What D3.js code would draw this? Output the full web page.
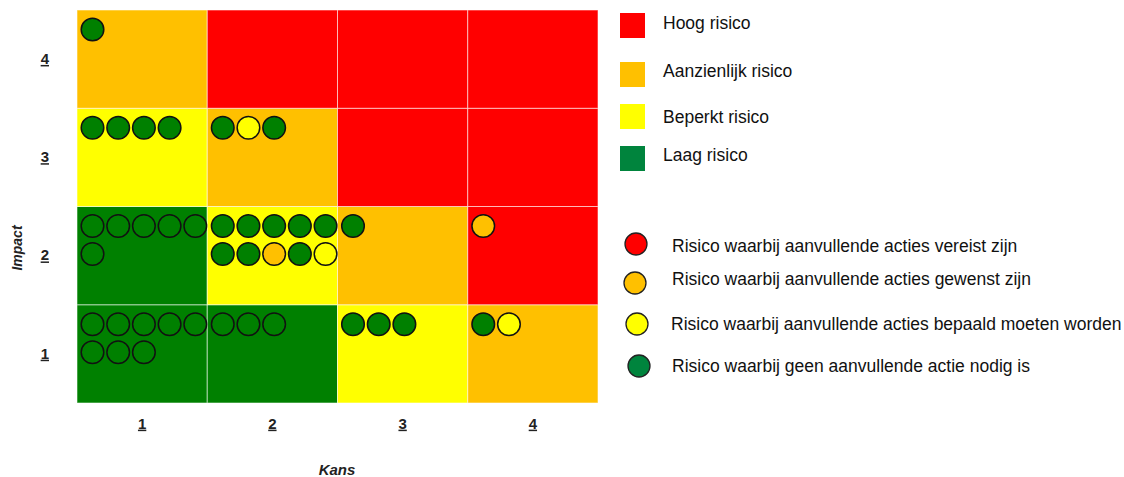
<!DOCTYPE html>
<html>
<head>
<meta charset="utf-8">
<script src="https://cdn.jsdelivr.net/npm/d3@7"></script>
<style>
  html, body { margin: 0; padding: 0; background: #fff; }
  svg { display: block; font-family: "Liberation Sans", Arial, sans-serif; }
</style>
</head>
<body>
<svg id="chart" width="1124" height="477"></svg>
<script>
// Axis categories
const kansLevels = [1, 2, 3, 4];
const impactLevels = [1, 2, 3, 4];

// Risk zone per cell: rows = impact 1..4, columns = kans 1..4
const zoneRows = [
  ["laag", "laag", "beperkt", "aanzienlijk"],        // impact 1
  ["laag", "beperkt", "aanzienlijk", "hoog"],        // impact 2
  ["beperkt", "aanzienlijk", "hoog", "hoog"],        // impact 3
  ["aanzienlijk", "hoog", "hoog", "hoog"]            // impact 4
];

// Individual risks, grouped per cell, in drawing order
const riskCells = [
  { kans: 1, impact: 4, dots: ["laag"] },
  { kans: 1, impact: 3, dots: ["laag", "laag", "laag", "laag"] },
  { kans: 2, impact: 3, dots: ["laag", "beperkt", "laag"] },
  { kans: 1, impact: 2, dots: ["laag", "laag", "laag", "laag", "laag", "laag"] },
  { kans: 2, impact: 2, dots: ["laag", "laag", "laag", "laag", "laag", "laag", "laag", "aanzienlijk", "laag", "beperkt"] },
  { kans: 3, impact: 2, dots: ["laag"] },
  { kans: 4, impact: 2, dots: ["aanzienlijk"] },
  { kans: 1, impact: 1, dots: ["laag", "laag", "laag", "laag", "laag", "laag", "laag", "laag"] },
  { kans: 2, impact: 1, dots: ["laag", "laag", "laag"] },
  { kans: 3, impact: 1, dots: ["laag", "laag", "laag"] },
  { kans: 4, impact: 1, dots: ["laag", "beperkt"] }
];

// Legend entries
const zoneKeys = ["hoog", "aanzienlijk", "beperkt", "laag"];
const zoneLabels = ["Hoog risico", "Aanzienlijk risico", "Beperkt risico", "Laag risico"];
const actionKeys = ["hoog", "aanzienlijk", "beperkt", "laag"];
const actionLabels = [
  "Risico waarbij aanvullende acties vereist zijn",
  "Risico waarbij aanvullende acties gewenst zijn",
  "Risico waarbij aanvullende acties bepaald moeten worden",
  "Risico waarbij geen aanvullende actie nodig is"
];

const cellColor = d3.scaleOrdinal()
  .domain(["hoog", "aanzienlijk", "beperkt", "laag"])
  .range(["#ff0000", "#ffc000", "#ffff00", "#008000"]);
const legendColor = d3.scaleOrdinal()
  .domain(["hoog", "aanzienlijk", "beperkt", "laag"])
  .range(["#ff0000", "#ffc000", "#ffff00", "#00843d"]);

const svg = d3.select("#chart");

const x = d3.scaleBand().domain(kansLevels).range([77, 598]);
const y = d3.scaleBand().domain(impactLevels.slice().reverse()).range([10, 403]);

// Matrix cells
const cells = [];
impactLevels.forEach((imp, i) => {
  kansLevels.forEach((k, j) => cells.push({ kans: k, impact: imp, zone: zoneRows[i][j] }));
});

svg.append("g").selectAll("rect")
  .data(cells)
  .join("rect")
  .attr("x", d => x(d.kans))
  .attr("y", d => y(d.impact))
  .attr("width", x.bandwidth())
  .attr("height", y.bandwidth())
  .attr("fill", d => cellColor(d.zone))
  .attr("stroke", "rgba(255,255,255,0.55)")
  .attr("stroke-width", 1);

// Risk dots: five per row inside each cell
const perRow = 5, stepX = 25.7, stepY = 28, padX = 15.5, padY = 19.5, r = 11.3;
const dots = [];
riskCells.forEach(c => {
  c.dots.forEach((lvl, k) => dots.push({ kans: c.kans, impact: c.impact, level: lvl, slot: k }));
});

svg.append("g").selectAll("circle")
  .data(dots)
  .join("circle")
  .attr("cx", d => x(d.kans) + padX + (d.slot % perRow) * stepX)
  .attr("cy", d => y(d.impact) + padY + Math.floor(d.slot / perRow) * stepY)
  .attr("r", r)
  .attr("fill", d => cellColor(d.level))
  .attr("stroke", "#111")
  .attr("stroke-width", 1.5);

// Axes
const xAxis = svg.append("g")
  .attr("transform", "translate(0,403)")
  .call(d3.axisBottom(x).tickSize(0).tickPadding(15));
xAxis.select(".domain").remove();
xAxis.selectAll("text")
  .attr("font-size", 15).attr("font-weight", "bold")
  .attr("font-family", "Liberation Sans, Arial, sans-serif")
  .attr("fill", "#222")
  .attr("text-decoration", "underline");

const yAxis = svg.append("g")
  .attr("transform", "translate(77,0)")
  .call(d3.axisLeft(y).tickSize(0).tickPadding(28));
yAxis.select(".domain").remove();
yAxis.selectAll("text")
  .attr("font-size", 15).attr("font-weight", "bold")
  .attr("font-family", "Liberation Sans, Arial, sans-serif")
  .attr("fill", "#222")
  .attr("text-decoration", "underline");

svg.append("text")
  .attr("transform", "translate(22,248) rotate(-90)")
  .attr("text-anchor", "middle")
  .attr("font-size", 14).attr("font-weight", "bold").attr("font-style", "italic")
  .attr("fill", "#222")
  .text("Impact");

svg.append("text")
  .attr("x", 337).attr("y", 475)
  .attr("text-anchor", "middle")
  .attr("font-size", 15).attr("font-weight", "bold").attr("font-style", "italic")
  .attr("fill", "#222")
  .text("Kans");

// Zone legend
const zoneY = [13, 62, 104, 146];
const zoneTextY = [29, 77, 123, 161];
const zl = svg.append("g").selectAll("g")
  .data(zoneKeys)
  .join("g")
  .attr("transform", (d, i) => `translate(620,${zoneY[i]})`);
zl.append("rect")
  .attr("width", 25).attr("height", 25)
  .attr("fill", d => legendColor(d));
zl.append("text")
  .attr("x", 43).attr("y", (d, i) => zoneTextY[i] - zoneY[i])
  .attr("font-size", 17.5)
  .attr("fill", "#111")
  .text((d, i) => zoneLabels[i]);

// Action legend
const actY = [244, 283, 324, 366];
const actX = [636, 635, 637, 639];
const actTextY = [252, 285, 330, 372];
const al = svg.append("g").selectAll("g")
  .data(actionKeys)
  .join("g")
  .attr("transform", (d, i) => `translate(${actX[i]},${actY[i]})`);
al.append("circle")
  .attr("r", 11)
  .attr("fill", d => legendColor(d))
  .attr("stroke", "#222")
  .attr("stroke-width", 1.3);
al.append("text")
  .attr("x", (d, i) => 672 - actX[i] - (i === 2 ? 1 : 0))
  .attr("y", (d, i) => actTextY[i] - actY[i])
  .attr("font-size", 17.5)
  .attr("fill", "#111")
  .text((d, i) => actionLabels[i]);
</script>
</body>
</html>
